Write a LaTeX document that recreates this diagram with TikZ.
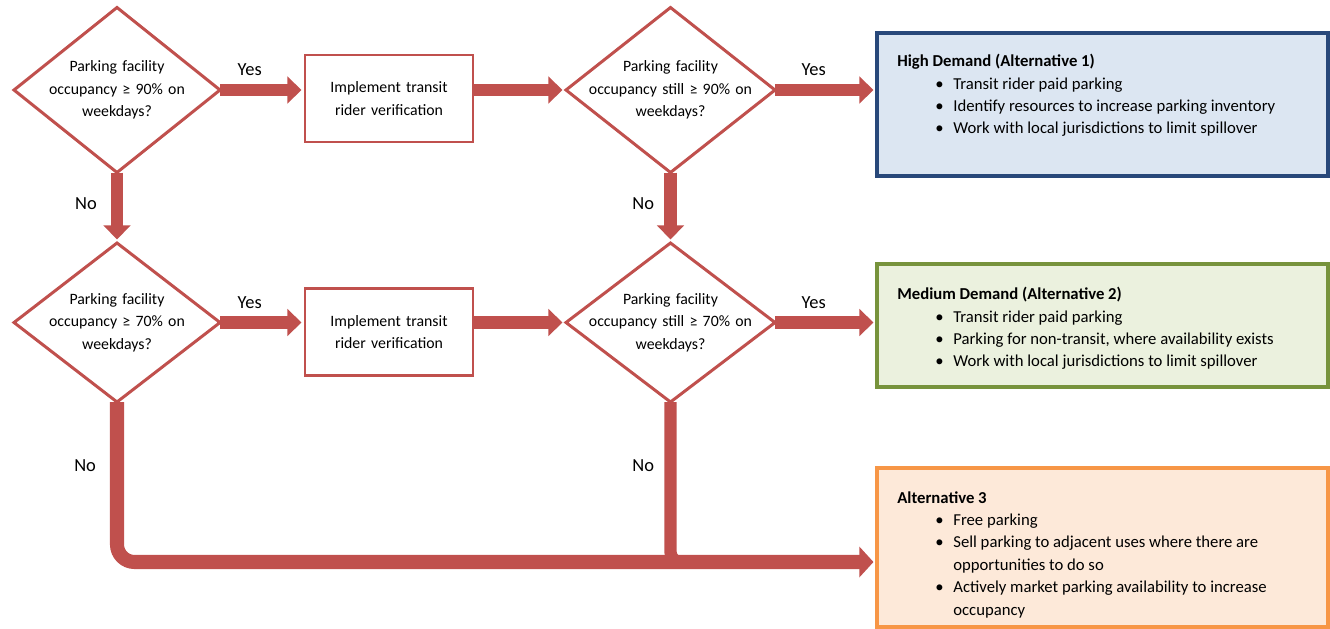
\documentclass[tikz,border=0pt]{standalone}
\usepackage{fontspec}
\setmainfont{Carlito}
\usetikzlibrary{positioning,shapes.geometric,arrows.meta,calc}
\definecolor{redline}{RGB}{192,80,77}
\definecolor{hiblue}{RGB}{40,72,122}
\definecolor{hifill}{RGB}{220,230,242}
\definecolor{medgreen}{RGB}{119,147,60}
\definecolor{medfill}{RGB}{235,241,222}
\definecolor{loorange}{RGB}{247,150,70}
\definecolor{lofill}{RGB}{253,233,217}
\newcommand{\itm}{\hspace*{0.76cm}\makebox[0.36cm][l]{\textbullet}}
\newcommand{\itmc}{\hspace*{1.12cm}}
\tikzset{
  decis/.style={diamond, shape aspect=1.25, draw=redline, line width=1.7pt, fill=white, text width=3.6cm, align=center, inner xsep=-0.6cm, inner ysep=0pt, outer sep=0pt, minimum width=4.12cm, minimum height=3.3cm},
  act/.style={rectangle, draw=redline, line width=1.7pt, text width=3.36cm, align=center, minimum height=1.74cm, inner sep=0pt, outer sep=0pt},
  outhi/.style={rectangle, draw=hiblue, fill=hifill, line width=2.3pt, minimum width=9.02cm, minimum height=2.86cm, inner sep=0pt, outer sep=0pt},
  outmed/.style={rectangle, draw=medgreen, fill=medfill, line width=2.3pt, minimum width=9.02cm, minimum height=2.46cm, inner sep=0pt, outer sep=0pt},
  outlo/.style={rectangle, draw=loorange, fill=lofill, line width=2.3pt, minimum width=9.02cm, minimum height=3.18cm, inner sep=0pt, outer sep=0pt},
  listtxt/.style={anchor=north west, align=left, inner sep=0pt, font=\fontsize{9.5}{12.75}\selectfont},
  flow/.style={draw=redline, line width=7pt, -{Triangle[length=8pt,width=15pt]}, shorten >=2pt},
  pipe/.style={draw=redline, line width=7pt},
  lbl/.style={inner sep=0pt, outer sep=0pt, font=\fontsize{10.5}{12}\selectfont},
}
\begin{document}
\begin{tikzpicture}[font=\fontsize{9}{12.75}\selectfont]
  \useasboundingbox (0,0) rectangle (26.6,-12.58);
  % first row
  \node[decis] (Q1) at (2.34,-1.8) {Parking facility\\occupancy ≥ 90\% on\\weekdays?};
  \node[act,right=1.7cm of Q1,yshift=-0.17cm] (I1) {Implement transit\\rider verification};
  \node[decis,minimum width=4.18cm,right=1.86cm of I1,yshift=0.17cm] (S1) {Parking facility\\occupancy still ≥ 90\% on\\weekdays?};
  \node[outhi,right=2.04cm of S1,yshift=-0.29cm] (H) {};
  % second row
  \node[decis,minimum height=3.18cm,below=1.41cm of Q1] (Q2) {Parking facility\\occupancy ≥ 70\% on\\weekdays?};
  \node[act,right=1.7cm of Q2,yshift=-0.19cm] (I2) {Implement transit\\rider verification};
  \node[decis,minimum width=4.18cm,minimum height=3.18cm,right=1.86cm of I2,yshift=0.19cm] (S2) {Parking facility\\occupancy still ≥ 70\% on\\weekdays?};
  \node[outmed,right=2.04cm of S2,yshift=-0.06cm] (M) {};
  \node[outlo,below=1.62cm of M] (L) {};
  % box texts
  \node[listtxt] (Ht) at ([xshift=0.4cm,yshift=-0.42cm]H.north west) {\textbf{High Demand (Alternative 1)}\\
    \itm Transit rider paid parking\\
    \itm Identify resources to increase parking inventory\\
    \itm Work with local jurisdictions to limit spillover};
  \node[listtxt] (Mt) at ([xshift=0.4cm,yshift=-0.46cm]M.north west) {\textbf{Medium Demand (Alternative 2)}\\
    \itm Transit rider paid parking\\
    \itm Parking for non-transit, where availability exists\\
    \itm Work with local jurisdictions to limit spillover};
  \node[listtxt] (Lt) at ([xshift=0.4cm,yshift=-0.46cm]L.north west) {\textbf{Alternative 3}\\
    \itm Free parking\\
    \itm Sell parking to adjacent uses where there are\\
    \itmc opportunities to do so\\
    \itm Actively market parking availability to increase\\
    \itmc occupancy};
  % connectors
  \draw[flow] (Q1.east) -- node[lbl,above=8pt,pos=.35] (y1) {Yes} (Q1.east -| I1.west);
  \draw[flow] (I1.east |- S1.west) -- (S1.west);
  \draw[flow] (S1.east) -- node[lbl,above=8pt,pos=.38] (y2) {Yes} (S1.east -| H.west);
  \draw[flow] (Q1.south) -- node[lbl,left=11.5pt,pos=.44] (n1) {No} (Q2.north);
  \draw[flow] (S1.south) -- node[lbl,left=9.4pt,pos=.44] (n2) {No} (S2.north);
  \draw[flow] (Q2.east) -- node[lbl,above=8pt,pos=.35] (y3) {Yes} (Q2.east -| I2.west);
  \draw[flow] (I2.east |- S2.west) -- (S2.west);
  \draw[flow] (S2.east) -- node[lbl,above=8pt,pos=.38] (y4) {Yes} (S2.east -| M.west);
  \coordinate (Lin) at ([yshift=-0.29cm]L.west);
  \draw[pipe,rounded corners=0.2cm] (S2.south) |- node[lbl,left=9.4pt,pos=.2] (n4) {No} ($(S2.south |- Lin)+(0.8,0)$);
  \draw[flow,line width=8pt,-{Triangle[length=8pt,width=17pt]},rounded corners=0.35cm] (Q2.south) |- node[lbl,left=12pt,pos=.2] (n3) {No} (Lin);
\end{tikzpicture}
\end{document}
